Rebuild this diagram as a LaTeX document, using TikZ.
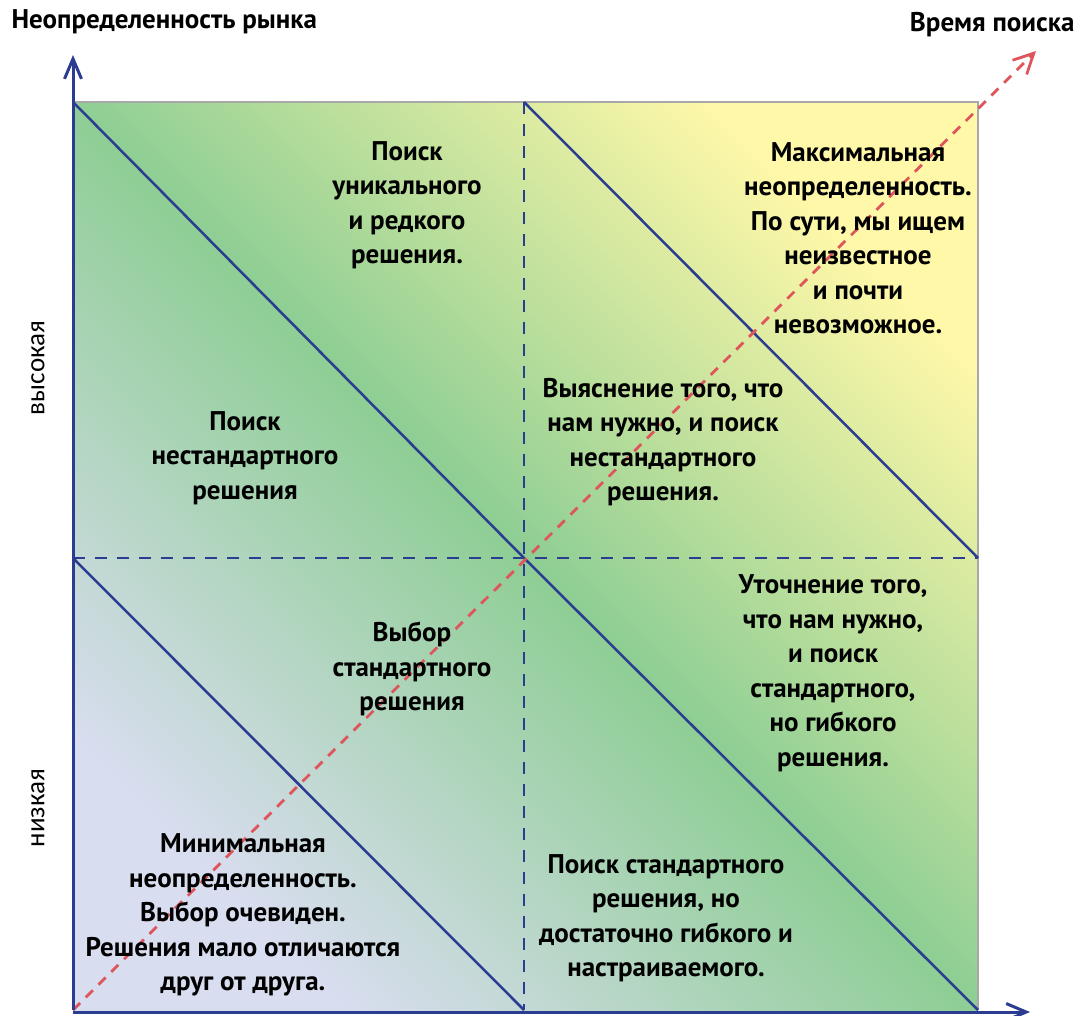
\documentclass[tikz,border=0pt]{standalone}
\usepackage{fontspec}
\setmainfont{PT Sans}
\newfontfamily\sidefont{Carlito}
\usetikzlibrary{arrows.meta}
\definecolor{axisblue}{RGB}{43,61,145}
\definecolor{lavend}{RGB}{217,221,240}
\definecolor{midgreen}{RGB}{142,206,148}
\definecolor{paleyellow}{RGB}{255,248,168}
\definecolor{timered}{RGB}{222,86,92}
\definecolor{framegray}{RGB}{168,168,168}

\begin{document}
\begin{tikzpicture}[x=1pt, y=-1pt,
        axis/.style={draw=axisblue, line width=3pt, -{Straight Barb[length=20pt, width=17pt]}},
        band/.style={draw=axisblue, line width=2.5pt},
        half/.style={draw=axisblue, line width=2.5pt, dash pattern=on 12pt off 10pt},
        timeline/.style={draw=timered, line width=2.8pt, dash pattern=on 10pt off 8pt, -{Straight Barb[length=20pt, width=20pt]}},
        txt/.style={align=center, font=\bfseries\fontsize{27}{34.5}\selectfont},
        side/.style={rotate=90, font=\sidefont\fontsize{27}{30}\selectfont}
    ]
        \useasboundingbox (0,0) rectangle (1091,1015);

        % corners and centre of the field
        \coordinate (o) at (73,1010);
        \coordinate (tl) at (73,102);
        \coordinate (tr) at (978,102);
        \coordinate (br) at (978,1010);
        \coordinate (c) at (524,558);
        \coordinate (cl) at (73,558);
        \coordinate (cr) at (978,558);
        \coordinate (ct) at (524,102);
        \coordinate (cb) at (524,1010);
        \coordinate (ytip) at (73,55);
        \coordinate (xtip) at (1030,1012);
        \coordinate (xo) at (73,1012);
        \coordinate (ttip) at (1036,51);

        \shade[left color=paleyellow, right color=lavend, middle color=midgreen, shading angle=-45] (tl) rectangle (br);
        \draw[framegray, line width=1.5pt] (tl) -- (tr) -- (br);

        \draw[half] (ct) -- (cb);
        \draw[half] (cl) -- (cr);

        \draw[band] (tl) -- (c);
        \draw[band] (ct) -- (cr);
        \draw[band] (cl) -- (cb);
        \draw[band] (c) -- (br);

        \draw[timeline] (o) -- (ttip);
        \draw[axis] (o) -- (ytip);
        \draw[axis] (xo) -- (xtip);

        \node[txt, anchor=west] (ylab) at (8,22) {Неопределенность рынка};
        \node[txt, anchor=east] (tlab) at (1078,25) {Время поиска};
        \node[side] (high) at (38,368) {высокая};
        \node[side] (low) at (38,808) {низкая};

        \node[txt] (rare) at (407,205) {Поиск\\уникального\\и редкого\\решения.};
        \node[txt] (maxu) at (858,238) {Максимальная\\неопределенность.\\По сути, мы ищем\\неизвестное\\и почти\\невозможное.};
        \node[txt] (nonstd) at (245,458) {Поиск\\нестандартного\\решения};
        \node[txt] (clarify) at (663,442) {Выяснение того, что\\нам нужно, и поиск\\нестандартного\\решения.};
        \node[txt] (refine) at (833,673) {Уточнение того,\\что нам нужно,\\и поиск\\стандартного,\\но гибкого\\решения.};
        \node[txt] (choice) at (412,669) {Выбор\\стандартного\\решения};
        \node[txt] (minu) at (243,915) {Минимальная\\неопределенность.\\Выбор очевиден.\\Решения мало отличаются\\друг от друга.};
        \node[txt] (flex) at (666,918) {Поиск стандартного\\решения, но\\достаточно гибкого и\\настраиваемого.};
    \end{tikzpicture}
\end{document}
